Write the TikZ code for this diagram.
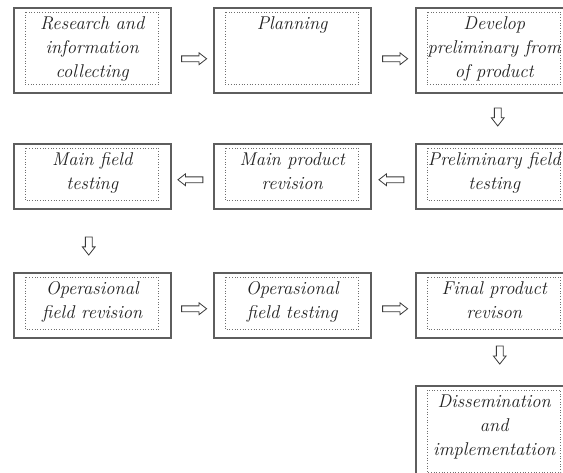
\documentclass[tikz,border=0pt]{standalone}
\usetikzlibrary{shapes.arrows,calc}
\definecolor{txtcol}{HTML}{222222}
\definecolor{framecol}{HTML}{5E5E5E}
\definecolor{dotcol}{HTML}{6E6E6E}
\definecolor{arrcol}{HTML}{3A3A3A}
\begin{document}
\begin{tikzpicture}[x=1pt,y=-1pt,
  outerbox/.style={draw=framecol, line width=1.5pt, minimum width=157pt, inner sep=0pt, anchor=north west},
  innerline/.style={draw=dotcol, line width=0.7pt, dotted},
  labeltext/.style={text=txtcol, inner sep=0pt, align=center, anchor=north,
    font=\fontsize{18.5}{24}\selectfont\itshape},
  harrow/.style={single arrow, draw=arrcol, fill=white, line width=0.8pt,
    minimum height=25pt, inner xsep=0pt, inner ysep=2.5pt,
    single arrow head extend=3pt, single arrow tip angle=76, single arrow head indent=0pt},
  varrow/.style={single arrow, draw=arrcol, fill=white, line width=0.8pt,
    minimum height=18pt, inner xsep=3pt, inner ysep=0pt,
    single arrow head extend=3pt, single arrow tip angle=76, single arrow head indent=0pt,
    shape border rotate=270}
]
\useasboundingbox (0,0) rectangle (563,472);
\clip (0,0) rectangle (563,472);
\fill[white] (0,0) rectangle (563,472);
\newcommand\stepbox[5]{%
  \node[outerbox, minimum height=#4] (#1) at (#2,#3) {};
  \draw[innerline] ($(#1.north west)+(12,5)$) rectangle ($(#1.south east)+(-13,-9)$);
  \node[labeltext] (#1t) at ($(#1.north)+(0,5)$) {#5};
}
% row 1
\stepbox{A1}{13}{7}{85}{\strut Research and\\\strut information\\\strut collecting}
\stepbox{B1}{213}{7}{85}{\strut Planning}
\stepbox{C1}{415}{7}{85}{\strut Develop\\\strut preliminary from\\\strut of product}
% row 2
\stepbox{A2}{13}{143}{65}{\strut Main field\\\strut testing}
\stepbox{B2}{213}{143}{65}{\strut Main product\\\strut revision}
\stepbox{C2}{415}{143}{65}{\strut Preliminary field\\\strut testing}
% row 3
\stepbox{A3}{13}{272}{65}{\strut Operasional\\\strut field revision}
\stepbox{B3}{213}{272}{65}{\strut Operasional\\\strut field testing}
\stepbox{C3}{415}{272}{65}{\strut Final product\\\strut revison}
% row 4
\stepbox{C4}{415}{385}{95}{\strut Dissemination\\\strut and\\\strut implementation}
% horizontal connectors
\path ($(A1.east)+(0,8.5)$) -- node[harrow]{} ($(B1.west)+(0,8.5)$);
\path ($(B1.east)+(0,8.5)$) -- node[harrow]{} ($(C1.west)+(0,8.5)$);
\path ($(C2.west)+(0,3.5)$) -- node[harrow, shape border rotate=180]{} ($(B2.east)+(0,3.5)$);
\path ($(B2.west)+(0,3.5)$) -- node[harrow, shape border rotate=180]{} ($(A2.east)+(0,3.5)$);
\path ($(A3.east)+(0,3.5)$) -- node[harrow]{} ($(B3.west)+(0,3.5)$);
\path ($(B3.east)+(0,3.5)$) -- node[harrow]{} ($(C3.west)+(0,3.5)$);
% vertical connectors
\path ($(C1.south)+(3.5,0)$) -- node[varrow, pos=0.43]{} ($(C2.north)+(3.5,0)$);
\path ($(A2.south)+(-3.5,0)$) -- node[varrow, pos=0.55]{} ($(A3.north)+(-3.5,0)$);
\path ($(C3.south)+(5.5,0)$) -- node[varrow, pos=0.31]{} ($(C4.north)+(5.5,0)$);
\end{tikzpicture}
\end{document}
